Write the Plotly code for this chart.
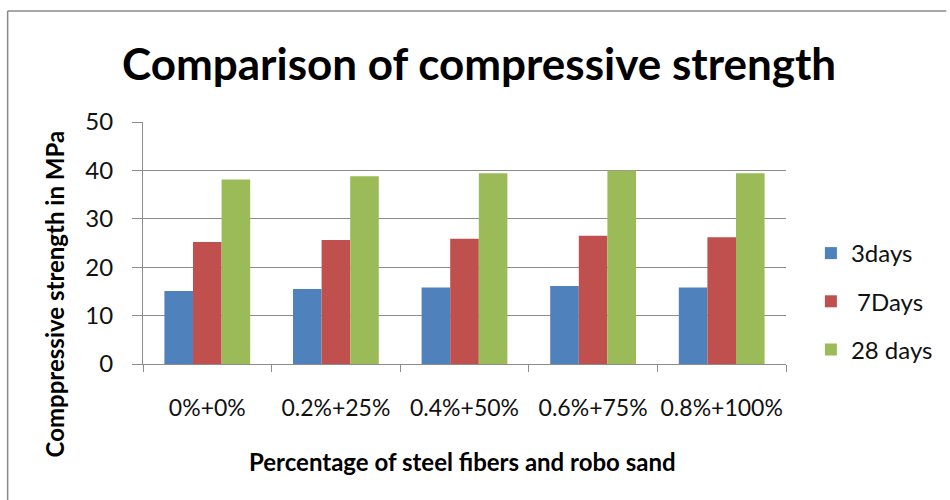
import plotly.graph_objects as go

# Mix proportions (steel fibre % + robo sand %)
categories = ["0%+0%", "0.2%+25%", "0.4%+50%", "0.6%+75%", "0.8%+100%"]

# Compressive strength (MPa) at each curing age
strength_3days = [15.1, 15.5, 15.8, 16.1, 15.8]
strength_7days = [25.2, 25.6, 25.9, 26.5, 26.2]
strength_28days = [38.1, 38.8, 39.4, 40.0, 39.4]

series_names = ["3days", " 7Days", "28 days"]
series_values = [strength_3days, strength_7days, strength_28days]
series_colors = ["#4F81BD", "#C0504D", "#9BBB59"]

FONT = "Lato, Calibri, sans-serif"
W, H = 950, 500
L, R, T, B = 143, 161, 122, 136
PW = W - L - R
PH = H - T - B


def px_x(px):
    return (px - L) / PW


def px_y(py):
    return 1 - (py - T) / PH


fig = go.Figure()
for name, vals, color in zip(series_names, series_values, series_colors):
    fig.add_trace(go.Bar(
        x=categories, y=vals, name=name,
        marker=dict(color=color, line=dict(width=0)),
        legendgroup=name,
    ))

fig.update_layout(
    width=W, height=H,
    margin=dict(l=L, r=R, t=T, b=B),
    paper_bgcolor="white", plot_bgcolor="white",
    barmode="group", bargap=0.333, bargroupgap=0,
    font=dict(family=FONT, color="#111111"),
    showlegend=True,
    legend=dict(
        x=px_x(814), y=px_y(231), xanchor="left", yanchor="top",
        font=dict(family=FONT, size=24, color="#111111"),
        tracegroupgap=14, itemclick=False,
    ),
    xaxis=dict(
        showgrid=False, showline=True, linecolor="#8c8c8c", linewidth=1,
        ticks="outside", tickson="boundaries", ticklen=7, tickcolor="#8c8c8c",
        tickfont=dict(family=FONT, size=23, color="#111111"),
        tickangle=0, ticklabelstandoff=23,
    ),
    yaxis=dict(
        range=[0, 50], dtick=10, showgrid=True, gridcolor="#8c8c8c", gridwidth=1,
        showline=True, linecolor="#8c8c8c", linewidth=1,
        ticks="outside", ticklen=10, tickcolor="#8c8c8c",
        tickfont=dict(family=FONT, size=24, color="#111111"),
        ticklabelstandoff=14, zeroline=False,
    ),
)

# Chart title and axis titles
fig.add_annotation(
    text="<b>Comparison of compressive strength</b>",
    xref="paper", yref="paper", x=px_x(481), y=px_y(63),
    showarrow=False, xanchor="center", yanchor="middle",
    font=dict(family=FONT, size=44, color="#000000"),
)
fig.add_annotation(
    text="<b>Percentage of steel fibers and robo sand</b>",
    xref="paper", yref="paper", x=px_x(464), y=px_y(461),
    showarrow=False, xanchor="center", yanchor="middle",
    font=dict(family=FONT, size=24, color="#000000"),
)
fig.add_annotation(
    text="<b>Comppressive strength in MPa</b>",
    xref="paper", yref="paper", x=px_x(54), y=px_y(294),
    showarrow=False, xanchor="center", yanchor="middle", textangle=-90,
    font=dict(family=FONT, size=24, color="#000000"),
)

# Outer chart frame (top and left edges)
frame = dict(color="#8a8a8a", width=1.5)
fig.add_shape(type="line", xref="paper", yref="paper",
              x0=px_x(7), y0=px_y(11), x1=px_x(950), y1=px_y(11), line=frame)
fig.add_shape(type="line", xref="paper", yref="paper",
              x0=px_x(7), y0=px_y(11), x1=px_x(7), y1=px_y(500), line=frame)

fig.write_html("out.html")
